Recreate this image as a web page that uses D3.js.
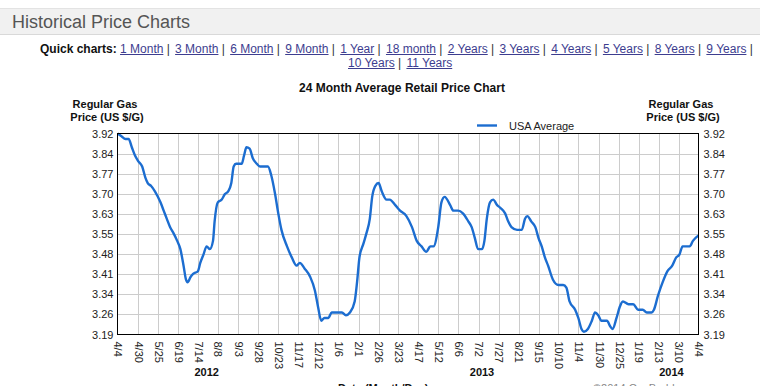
<!DOCTYPE html>
<html>
<head>
  <meta charset="utf-8">
  <script src="https://d3js.org/d3.v7.min.js"></script>
  <style>
    body { margin: 0; background: #fff; font-family: Arial, "Liberation Sans", sans-serif; }
    #wrap { position: relative; width: 760px; height: 386px; overflow: hidden; }
    svg { position: absolute; left: 0; top: 0; }
    .hdr {
      position: absolute; left: 0; top: 8px; width: 760px; height: 25px;
      background: #f1f1f1; border-top: 1px solid #e3e3e3; border-bottom: 1px solid #d9d9d9;
    }
    .hdr span { position: absolute; left: 12px; top: 3px; font-size: 18px; color: #555; }
    .quick { position: absolute; font-size: 12px; line-height: 14px; white-space: pre; color: #222; }
    .quick b { color: #111; }
    .quick a { color: #3d3d8f; text-decoration: underline; }
    .quick .sep { margin-right: 1.9px; color: #333; }
  </style>
</head>

<body>
  <div id="wrap"></div>

  <script>
    // ---- data ----
    const dates = [
      '2012-04-04','2012-04-09','2012-04-14','2012-04-18','2012-04-22','2012-04-26','2012-04-30',
      '2012-05-05','2012-05-09','2012-05-12','2012-05-16','2012-05-21','2012-05-28','2012-06-01',
      '2012-06-05','2012-06-09','2012-06-13','2012-06-18','2012-06-22','2012-06-26','2012-06-29',
      '2012-07-01','2012-07-05','2012-07-08','2012-07-14','2012-07-17','2012-07-21','2012-07-25',
      '2012-07-29','2012-08-02','2012-08-04','2012-08-08','2012-08-13','2012-08-17','2012-08-21',
      '2012-08-25','2012-08-28','2012-08-31','2012-09-07','2012-09-10','2012-09-13','2012-09-17',
      '2012-09-21','2012-09-26','2012-09-30','2012-10-06','2012-10-10','2012-10-14','2012-10-19',
      '2012-10-23','2012-10-27','2012-11-03','2012-11-09','2012-11-15','2012-11-19','2012-11-25',
      '2012-12-02','2012-12-08','2012-12-12','2012-12-16','2012-12-20','2012-12-25','2012-12-29',
      '2013-01-05','2013-01-11','2013-01-16','2013-01-21','2013-01-27','2013-01-30','2013-02-02',
      '2013-02-07','2013-02-11','2013-02-15','2013-02-18','2013-02-22','2013-02-26','2013-03-02',
      '2013-03-08','2013-03-12','2013-03-19','2013-03-25','2013-04-02','2013-04-09','2013-04-15',
      '2013-04-21','2013-04-27','2013-05-02','2013-05-06','2013-05-12','2013-05-16','2013-05-20',
      '2013-05-27','2013-05-31','2013-06-06','2013-06-12','2013-06-19','2013-06-23','2013-06-27',
      '2013-07-01','2013-07-06','2013-07-09','2013-07-12','2013-07-16','2013-07-20','2013-07-25',
      '2013-07-29','2013-08-04','2013-08-08','2013-08-12','2013-08-19','2013-08-25','2013-08-29',
      '2013-09-01','2013-09-06','2013-09-11','2013-09-15','2013-09-19','2013-09-23','2013-09-27',
      '2013-10-03','2013-10-10','2013-10-16','2013-10-20','2013-10-24','2013-10-31','2013-11-04',
      '2013-11-08','2013-11-11','2013-11-16','2013-11-21','2013-11-25','2013-11-29','2013-12-03',
      '2013-12-10','2013-12-14','2013-12-17','2013-12-22','2013-12-26','2013-12-30','2014-01-06',
      '2014-01-12','2014-01-18','2014-01-24','2014-01-29','2014-02-04','2014-02-07','2014-02-12',
      '2014-02-18','2014-02-24','2014-03-02','2014-03-07','2014-03-11','2014-03-15','2014-03-20',
      '2014-03-24','2014-03-28','2014-04-04'
    ];
    const usaAverage = [
      3.92,3.91,3.90,3.90,3.87,3.84,3.82,
      3.80,3.76,3.74,3.73,3.71,3.67,3.64,
      3.61,3.58,3.56,3.53,3.50,3.44,3.39,
      3.38,3.40,3.41,3.42,3.45,3.48,3.51,
      3.50,3.53,3.60,3.67,3.68,3.70,3.71,
      3.74,3.80,3.81,3.81,3.84,3.87,3.865,
      3.83,3.81,3.80,3.80,3.80,3.77,3.70,
      3.63,3.57,3.51,3.47,3.44,3.45,3.43,
      3.40,3.35,3.29,3.24,3.25,3.25,3.27,
      3.27,3.27,3.26,3.27,3.31,3.38,3.47,
      3.52,3.56,3.61,3.69,3.73,3.74,3.71,
      3.68,3.68,3.66,3.64,3.62,3.58,3.53,
      3.51,3.49,3.51,3.51,3.58,3.67,3.69,
      3.66,3.64,3.64,3.63,3.60,3.58,3.54,
      3.50,3.50,3.53,3.61,3.67,3.68,3.66,
      3.65,3.63,3.60,3.58,3.57,3.57,3.61,
      3.62,3.60,3.58,3.54,3.51,3.47,3.44,
      3.39,3.37,3.37,3.36,3.31,3.28,3.25,
      3.21,3.20,3.21,3.24,3.27,3.26,3.24,
      3.24,3.22,3.21,3.25,3.29,3.31,3.30,
      3.30,3.28,3.28,3.27,3.27,3.28,3.33,
      3.38,3.42,3.44,3.47,3.48,3.51,3.51,
      3.51,3.53,3.55
    ];

    const tickDates = [
      '2012-04-04','2012-04-30','2012-05-25','2012-06-19','2012-07-14','2012-08-08','2012-09-03',
      '2012-09-28','2012-10-23','2012-11-17','2012-12-12','2013-01-06','2013-02-01','2013-02-26',
      '2013-03-23','2013-04-17','2013-05-12','2013-06-06','2013-07-02','2013-07-27','2013-08-21',
      '2013-09-15','2013-10-10','2013-11-04','2013-11-30','2013-12-25','2014-01-19','2014-02-13',
      '2014-03-10','2014-04-04'
    ];
    const yTickLabels = ['3.19','3.26','3.34','3.41','3.48','3.55','3.63','3.70','3.77','3.84','3.92'];
    const years = ['2012', '2013', '2014'];
    const yearDates = ['2012-07-25', '2013-07-06', '2014-03-01'];

    const quickLinks = ['1 Month','3 Month','6 Month','9 Month','1 Year','18 month','2 Years',
                        '3 Years','4 Years','5 Years','8 Years','9 Years','10 Years','11 Years'];

    // ---- page furniture ----
    const wrap = d3.select('#wrap');
    const parse = d3.timeParse('%Y-%m-%d');
    const font = 'Arial, "Liberation Sans", sans-serif';

    const svg = wrap.append('svg').attr('width', 760).attr('height', 386);

    wrap.append('div').attr('class', 'hdr')
      .append('span').text('Historical Price Charts');

    const line1 = wrap.append('div').attr('class', 'quick').style('left', '40px').style('top', '42px');
    line1.append('b').text('Quick charts: ');
    quickLinks.slice(0, 12).forEach(q => {
      line1.append('a').text(q);
      line1.append('span').attr('class', 'sep').text(' | ');
    });
    const line2 = wrap.append('div').attr('class', 'quick').style('left', '348px').style('top', '56px');
    quickLinks.slice(12).forEach((q, i) => {
      line2.append('a').text(q);
      if (i === 0) line2.append('span').attr('class', 'sep').text(' | ');
    });

    // ---- chart ----
    const X0 = 117.5, X1 = 698.5, Y0 = 133.5, Y1 = 334.5;

    const data = dates.map((d, i) => ({ date: parse(d), value: usaAverage[i] }));
    const ticks = tickDates.map(parse);

    const x = d3.scaleTime()
      .domain([ticks[0], ticks[ticks.length - 1]])
      .range([X0, X1]);

    const y = d3.scaleLinear()
      .domain([3.19, 3.92])
      .range([Y1, Y0]);

    const yTicks = yTickLabels.map((l, i) => 3.19 + i * (3.92 - 3.19) / (yTickLabels.length - 1));

    // grid
    svg.append('g').selectAll('line')
      .data(yTicks.slice(1, -1)).enter().append('line')
      .attr('x1', X0).attr('x2', X1)
      .attr('y1', d => Math.round(y(d)) + 0.5).attr('y2', d => Math.round(y(d)) + 0.5)
      .attr('stroke', '#cccccc');
    svg.append('g').selectAll('line')
      .data(ticks.slice(1, -1)).enter().append('line')
      .attr('x1', d => Math.round(x(d)) + 0.5).attr('x2', d => Math.round(x(d)) + 0.5)
      .attr('y1', Y0).attr('y2', Y1)
      .attr('stroke', '#cccccc');

    // the series
    svg.append('clipPath').attr('id', 'plot')
      .append('rect').attr('x', X0).attr('y', Y0 - 2).attr('width', X1 - X0).attr('height', Y1 - Y0 + 4);

    svg.append('path')
      .datum(data)
      .attr('clip-path', 'url(#plot)')
      .attr('fill', 'none')
      .attr('stroke', '#1c6dd0')
      .attr('stroke-width', 2.4)
      .attr('stroke-linejoin', 'round')
      .attr('d', d3.line().x(d => x(d.date)).y(d => y(d.value)).curve(d3.curveMonotoneX));

    // frame
    svg.append('rect')
      .attr('x', X0).attr('y', Y0).attr('width', X1 - X0).attr('height', Y1 - Y0)
      .attr('fill', 'none').attr('stroke', '#000');

    // axes
    const styleAxis = g => {
      g.select('.domain').remove();
      g.attr('font-family', font).attr('font-size', 11);
      g.selectAll('text').attr('fill', '#222');
    };

    svg.append('g')
      .attr('transform', `translate(${X0 - 1},0)`)
      .call(d3.axisLeft(y).tickValues(yTicks).tickFormat((d, i) => yTickLabels[i]).tickSize(0).tickPadding(3))
      .call(styleAxis);

    svg.append('g')
      .attr('transform', `translate(${X1 + 1},0)`)
      .call(d3.axisRight(y).tickValues(yTicks).tickFormat((d, i) => yTickLabels[i]).tickSize(0).tickPadding(4))
      .call(styleAxis);

    const xAxis = svg.append('g')
      .attr('transform', `translate(0,${Y1})`)
      .call(d3.axisBottom(x).tickValues(ticks).tickFormat(d3.timeFormat('%-m/%-d')).tickSize(0))
      .call(styleAxis);
    xAxis.selectAll('text')
      .attr('transform', 'rotate(90)')
      .attr('x', 7).attr('y', 0).attr('dy', '0.35em')
      .attr('text-anchor', 'start');

    // year labels
    svg.append('g').selectAll('text')
      .data(years).enter().append('text')
      .attr('x', (d, i) => x(parse(yearDates[i])))
      .attr('y', 376)
      .attr('text-anchor', 'middle')
      .attr('font-family', font).attr('font-size', 11).attr('font-weight', 'bold')
      .attr('fill', '#111')
      .text(d => d);

    // titles
    svg.append('text')
      .attr('x', 402).attr('y', 92)
      .attr('text-anchor', 'middle')
      .attr('font-family', font).attr('font-size', 12).attr('font-weight', 'bold')
      .attr('fill', '#111')
      .text('24 Month Average Retail Price Chart');

    [105, 681].forEach(cx => {
      const t = svg.append('text')
        .attr('text-anchor', 'middle')
        .attr('font-family', font).attr('font-size', 11).attr('font-weight', 'bold')
        .attr('fill', '#111');
      t.append('tspan').attr('x', cx).attr('y', 108).text('Regular Gas');
      t.append('tspan').attr('x', cx + 2).attr('y', 121).text('Price (US $/G)');
    });

    // legend
    svg.append('line')
      .attr('x1', 477).attr('x2', 497).attr('y1', 125.5).attr('y2', 125.5)
      .attr('stroke', '#1c6dd0').attr('stroke-width', 2.4);
    svg.append('text')
      .attr('x', 509).attr('y', 129.5)
      .attr('font-family', font).attr('font-size', 11)
      .attr('fill', '#222')
      .text('USA Average');

    // bottom captions, mostly cut off by the window
    svg.append('text')
      .attr('x', 338).attr('y', 392)
      .attr('font-family', font).attr('font-size', 11).attr('font-weight', 'bold')
      .attr('fill', '#111')
      .text('Date (Month/Day)');
    svg.append('text')
      .attr('x', 593).attr('y', 392)
      .attr('font-family', font).attr('font-size', 11)
      .attr('fill', '#888')
      .text('\u00a92014 GasBuddy.com');
  </script>
</body>
</html>
